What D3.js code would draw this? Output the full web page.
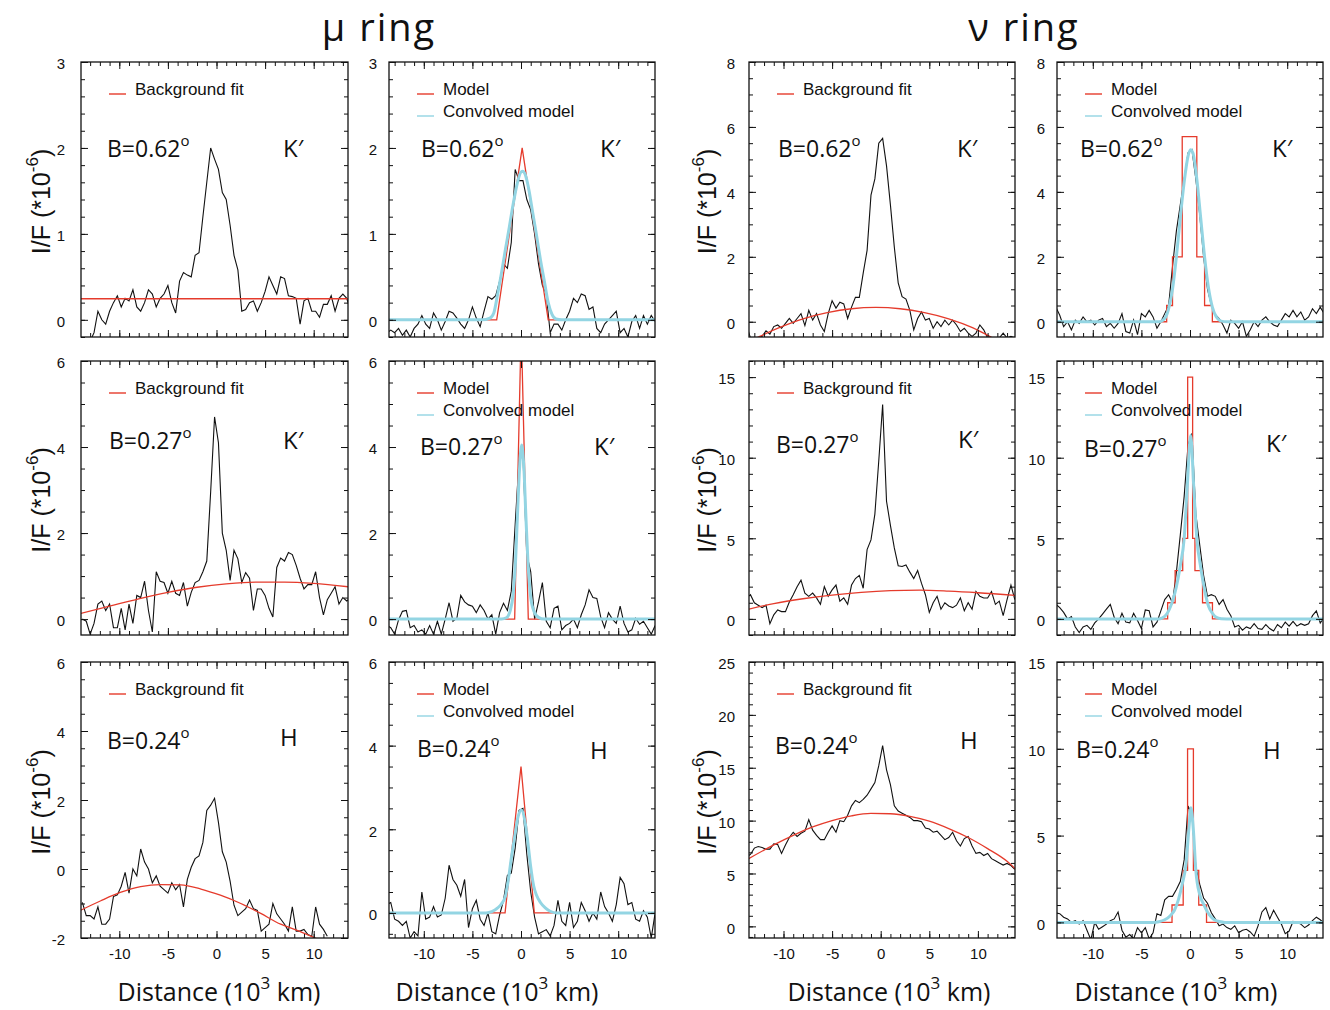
<!DOCTYPE html>
<html lang="en">
<head>
<meta charset="UTF-8">
<title>μ ring / ν ring radial profiles</title>
<script src="https://cdn.jsdelivr.net/npm/d3@7"></script>
<style>
  body{ margin:0; background:#fff; }
  svg text{ font-family:"Liberation Sans", Arial, sans-serif; fill:#111; }
  .hum{ font-family:"Open Sans","Noto Sans",sans-serif; }
  .obs{ fill:none; stroke:#111; stroke-width:1.1; }
  .fit{ fill:none; stroke:#e53b2c; stroke-width:1.3; }
  .conv{ fill:none; stroke:#93d5e3; stroke-width:3; }
  .box{ fill:none; stroke:#111; stroke-width:1.3; }
</style>
</head>
<body>
<div id="chart"></div>
<script>
// sampling of the observed profiles (10^3 km)
const X0 = -13.8, DX = 0.4;

// ---- mu ring, B=0.62, K'
const muObs062 = [-0.3,-0.3,-0.25,-0.15,0.1,0.0,-0.05,0.1,0.2,0.28,
  0.15,0.25,0.22,0.35,0.15,0.1,0.2,0.35,0.3,0.15,
  0.25,0.3,0.4,0.2,0.08,0.45,0.55,0.52,0.5,0.75,
  0.78,1.2,1.6,2.0,1.87,1.75,1.48,1.4,1.1,0.75,
  0.58,0.1,0.12,0.2,0.22,0.1,0.2,0.33,0.5,0.4,
  0.3,0.5,0.48,0.28,0.27,0.25,-0.05,0.22,0.25,0.1,
  0.1,0.03,0.18,0.18,0.28,0.1,0.25,0.3,0.25,0.1];
const muBg062 = [[-14,0.245],[13.6,0.245]];
const muRes062 = [-0.15,-0.12,-0.15,-0.1,-0.18,-0.12,-0.2,-0.1,-0.05,0.05,
  -0.05,-0.1,0.08,0.0,-0.12,-0.02,0.1,0.08,0.02,-0.05,
  -0.1,0.0,0.15,0.02,-0.08,0.1,0.27,0.24,0.28,0.45,
  0.65,0.6,0.9,1.75,1.62,1.62,1.4,1.28,1.0,0.65,
  0.4,0.3,-0.15,-0.05,-0.05,-0.12,0.0,0.1,0.25,0.2,
  0.3,0.28,0.12,0.15,-0.1,-0.15,-0.05,0.0,0.05,0.1,
  -0.15,-0.1,-0.2,-0.02,0.05,-0.1,0.05,-0.05,0.05,-0.02];
const muModel062 = [[-13.8,0],[-2.5,0],[0.12,2.0],[2.8,0],[13.8,0]];
const muConv062 = [[-13.8,0],[-4,0],[-3.2,0.02],[-2.8,0.08],[-2.4,0.3],[-2.0,0.55],[-1.6,0.82],[-1.2,1.08],
  [-0.8,1.35],[-0.4,1.58],[0.0,1.72],[0.2,1.73],[0.4,1.7],[0.8,1.52],[1.2,1.25],[1.6,0.98],[2.0,0.7],
  [2.4,0.45],[2.8,0.2],[3.2,0.06],[3.6,0.01],[4.2,0],[13.8,0]];

// ---- mu ring, B=0.27, K'
const muObs027 = [0.0,-0.05,-0.35,-0.1,0.35,0.42,0.2,0.35,-0.2,-0.2,
  0.25,-0.25,0.35,-0.1,0.55,0.5,0.88,0.2,-0.3,1.1,
  0.88,0.85,0.6,0.88,0.6,0.55,0.85,0.3,0.62,0.85,
  0.9,1.1,1.35,2.96,4.7,4.1,2.0,1.6,0.9,1.6,
  1.4,0.85,1.08,0.95,0.2,0.7,0.7,0.55,0.25,0.05,
  1.2,1.42,1.35,1.55,1.5,1.25,0.95,0.7,0.8,0.8,
  1.1,0.5,0.1,0.45,0.6,0.75,0.35,0.5,0.42,0.5];
const muBg027 = [[-14,0.13],[-11,0.3],[-8,0.47],[-5,0.62],[-2,0.74],[1,0.82],[4,0.86],[7,0.86],[10,0.83],[13.6,0.75]];
const muRes027 = [-0.15,-0.2,-0.35,-0.02,0.18,0.2,-0.2,-0.15,-0.3,-0.25,
  -0.35,-0.15,-0.35,-0.05,-0.35,0.0,0.38,-0.05,0.02,0.55,
  0.4,0.33,0.3,0.15,0.33,0.2,0.0,0.1,-0.35,0.15,
  0.37,0.2,0.65,2.2,3.7,3.8,1.5,1.1,0.0,0.4,
  0.85,-0.05,-0.2,0.25,0.3,-0.25,-0.15,-0.1,0.0,-0.2,
  0.1,0.33,0.68,0.5,0.48,0.05,-0.2,0.15,0.0,-0.1,
  0.3,-0.1,-0.3,-0.25,0.02,-0.12,-0.05,-0.2,-0.35,-0.15];
const muModel027 = [[-13.8,0],[-0.65,0],[0.02,6.8],[0.75,0],[13.8,0]];
const muConv027 = [[-13.8,0],[-2.0,0],[-1.5,0.03],[-1.1,0.2],[-0.8,0.6],[-0.55,1.4],[-0.35,2.5],[-0.15,3.5],
  [0.07,4.05],[0.3,3.5],[0.5,2.4],[0.7,1.4],[0.95,0.6],[1.3,0.2],[1.8,0.04],[2.4,0],[13.8,0]];

// ---- mu ring, B=0.24, H
const muObs024 = [-0.97,-1.35,-1.35,-1.45,-1.1,-1.6,-1.6,-1.45,-0.8,-0.75,
  -0.5,-0.1,-0.7,0.0,-0.2,0.58,0.2,0.0,-0.4,-0.2,
  -0.5,-0.6,-0.7,-0.4,-0.6,-0.45,-1.1,-0.3,0.05,0.3,
  0.38,0.77,1.7,1.85,2.05,1.35,0.5,0.2,-0.35,-1.05,
  -1.35,-1.25,-1.15,-0.9,-1.15,-1.2,-1.8,-1.7,-1.6,-1.0,
  -1.3,-1.45,-1.6,-1.8,-1.1,-1.8,-1.8,-1.75,-1.9,-1.95,
  -1.1,-1.6,-1.75,-1.95];
const muBg024 = [[-14,-1.2],[-11.9,-0.92],[-9.9,-0.68],[-7.8,-0.51],[-5.75,-0.45],[-3.7,-0.46],[-1.6,-0.58],
  [0.4,-0.76],[2.5,-1.0],[4.5,-1.28],[6.6,-1.6],[8.5,-1.8],[10.5,-2.05],[12,-2.3]];
const muRes024 = [0.2,0.25,-0.15,-0.2,-0.3,-0.2,-0.6,-0.45,-0.55,0.5,
  -0.15,-0.1,0.15,-0.1,-0.05,0.35,1.14,0.8,0.66,0.4,
  0.8,-0.35,0.1,0.3,-0.15,-0.3,0.0,-0.45,-0.5,-0.05,
  0.3,0.9,0.95,1.55,2.45,2.5,1.4,0.5,-0.1,-0.5,
  -0.45,-0.4,-0.55,-0.3,0.3,-0.2,-0.3,0.25,-0.35,-0.2,
  0.25,0.05,-0.2,0.0,-0.15,0.5,0.15,0.0,-0.2,0.2,
  0.85,0.7,0.2,0.25,-0.15,-0.2,0.05,-0.1,-0.6,0.0];
const muModel024 = [[-13.8,0],[-1.64,0],[0.0,3.5],[1.37,0],[13.8,0]];
const muConv024 = [[-13.8,0],[-3.6,0],[-3.0,0.03],[-2.4,0.12],[-2.0,0.22],[-1.6,0.4],[-1.3,0.8],[-1.0,1.3],
  [-0.6,1.9],[-0.3,2.3],[0.05,2.46],[0.4,2.2],[0.7,1.7],[1.0,1.1],[1.3,0.65],[1.6,0.42],[2.0,0.25],
  [2.5,0.12],[3.0,0.04],[3.7,0],[13.8,0]];

// ---- nu ring, B=0.62, K'
const nuObs062 = [-0.1,-0.5,-0.55,-0.5,-0.45,-0.28,-0.38,-0.15,-0.1,-0.2,
  -0.05,0.1,-0.05,0.1,0.25,-0.12,0.35,0.05,0.25,-0.1,
  -0.3,0.25,0.65,0.42,0.6,0.55,0.1,0.45,0.75,0.75,
  1.5,2.2,3.9,4.4,5.5,5.65,4.8,3.6,2.3,1.2,
  0.77,0.7,0.35,-0.25,0.1,0.3,0.05,0.1,-0.2,0.0,
  -0.15,0.05,-0.1,0.05,-0.1,-0.3,-0.2,-0.35,-0.45,-0.35,
  -0.1,-0.25,-0.5,-0.55,-0.5,-0.5,-0.35,-0.5,-0.45,-0.5];
const nuBg062 = [[-13.6,-0.62],[-12.5,-0.46],[-10.5,-0.19],[-8,0.09],[-5.5,0.28],[-3,0.4],[-0.5,0.44],
  [2,0.4],[4.5,0.28],[7,0.09],[9.5,-0.19],[11.5,-0.5],[13.8,-0.9]];
const nuRes062 = [0.45,0.2,-0.15,0.0,-0.25,0.05,-0.05,0.15,0.0,0.05,
  -0.1,0.05,0.1,-0.15,-0.05,-0.2,-0.05,0.25,-0.3,-0.35,
  0.05,-0.4,0.25,0.15,0.35,0.15,-0.2,0.0,0.25,0.5,
  1.7,2.8,3.6,4.4,5.2,5.3,4.4,3.3,2.0,1.0,
  0.5,0.22,0.1,-0.1,-0.35,0.05,-0.05,-0.2,0.0,-0.45,
  -0.25,0.0,-0.15,0.05,0.15,0.0,-0.1,-0.15,0.05,0.25,
  0.15,0.35,0.15,0.3,0.05,0.15,0.4,0.25,0.45,0.25];
const nuModel062 = [[-13.8,0],[-2.4,0],[-2.4,0.5],[-1.8,0.5],[-1.8,2],[-0.8,2],[-0.8,5.7],[0.7,5.7],
  [0.7,2],[1.5,2],[1.5,0.5],[2.3,0.5],[2.3,0],[13.8,0]];
const nuConv062 = [[-13.8,0],[-3.2,0],[-2.6,0.1],[-2.2,0.4],[-1.8,1.0],[-1.4,2.0],[-1.0,3.2],[-0.6,4.3],
  [-0.2,5.1],[0.05,5.3],[0.3,5.2],[0.7,4.4],[1.1,3.2],[1.5,2.0],[1.9,1.05],[2.3,0.45],[2.7,0.15],
  [3.2,0.02],[3.8,0],[13.8,0]];

// ---- nu ring, B=0.27, K'
const nuObs027 = [1.3,1.5,1.0,0.85,0.7,0.85,-0.3,0.25,0.55,0.45,
  0.45,1.05,1.5,2.0,2.4,1.6,1.4,1.6,1.3,0.9,
  2.0,1.4,1.8,2.1,1.1,1.3,0.9,2.1,2.5,2.7,
  1.9,4.3,4.9,6.5,9.8,13.3,7.3,5.8,4.4,3.3,
  3.25,3.35,2.9,2.5,3.0,2.2,1.5,0.4,1.0,1.4,
  0.6,1.0,0.8,0.7,0.85,1.3,0.5,1.0,0.6,1.7,
  1.4,1.3,1.3,1.7,0.9,1.1,0.2,1.2,2.1,1.2];
const nuBg027 = [[-13.6,0.6],[-11,0.95],[-8,1.25],[-5,1.48],[-2,1.65],[1,1.75],[4,1.78],[7,1.72],[10,1.62],[13.9,1.45]];
const nuRes027 = [0.9,0.7,0.4,0.0,0.15,-0.5,-0.85,-0.5,-0.4,-0.65,
  -0.25,0.0,0.3,0.6,0.9,0.1,-0.3,0.35,-0.2,-0.25,
  0.35,-0.1,-0.6,0.55,0.5,-0.5,-0.2,0.5,1.2,1.5,
  1.0,2.9,5.2,7.6,10.8,11.5,6.5,4.6,2.7,1.4,
  1.5,1.4,0.9,1.2,0.6,0.2,-0.5,-0.4,-0.7,-0.5,
  -0.6,-0.3,-0.6,-0.65,-0.35,-0.6,-0.75,-0.35,-0.55,-0.2,
  -0.45,-0.15,-0.45,-0.3,-0.4,-0.3,0.2,0.5,-0.25,0.1];
const nuModel027 = [[-13.8,0],[-2.3,0],[-2.3,1],[-1.53,1],[-1.53,3],[-0.75,3],[-0.75,5],[-0.24,5],
  [-0.24,15],[0.27,15],[0.27,5],[0.51,5],[0.51,3],[1.29,3],[1.29,1],[2.31,1],[2.31,0],[13.8,0]];
const nuConv027 = [[-13.8,0],[-3.2,0],[-2.6,0.15],[-2.2,0.5],[-1.8,1.1],[-1.4,2.0],[-1.0,3.3],[-0.6,5.0],
  [-0.3,8.0],[0.07,11.4],[0.4,8.0],[0.7,5.0],[1.1,3.2],[1.5,1.8],[1.9,0.8],[2.3,0.35],[2.7,0.1],
  [3.2,0.01],[3.8,0],[13.8,0]];

// ---- nu ring, B=0.24, H
const nuObs024 = [6.6,6.8,7.4,7.55,7.45,7.3,7.3,7.8,7.75,6.9,
  7.7,8.4,8.9,8.5,8.8,9.0,10.1,9.1,8.6,8.2,
  8.2,8.9,9.5,8.9,10.0,9.9,10.5,11.4,11.9,11.7,
  12.0,12.4,13.0,13.6,15.2,17.1,14.8,13.4,11.4,10.9,
  10.7,10.5,10.3,10.0,10.0,9.9,9.3,9.2,8.9,9.0,
  8.6,8.2,8.4,8.9,8.1,7.6,8.3,8.5,7.6,6.9,
  7.0,6.7,6.9,6.4,6.2,6.0,5.8,5.95,5.75,5.4];
const nuBg024 = [[-13.6,6.4],[-11,7.7],[-9,8.6],[-7,9.4],[-5,10.0],[-3,10.45],[-1,10.68],[1,10.65],
  [3,10.4],[5,9.95],[7,9.25],[9,8.4],[11,7.35],[13,6.15],[14,5.3]];
const nuRes024 = [0.55,0.5,0.3,0.2,0.0,0.1,-0.1,0.1,-0.45,-1.0,
  0.0,-0.4,-0.25,-0.1,0.1,0.2,0.6,-0.45,-0.85,-0.7,
  -0.95,-0.3,-0.6,-0.3,-0.95,-0.6,0.5,0.4,1.3,1.5,
  1.5,1.9,2.35,3.6,6.7,6.2,3.2,2.2,1.4,1.1,
  0.55,0.2,-0.2,-0.1,-0.3,-0.4,-0.2,-0.6,-0.45,-0.4,
  -0.55,-0.8,-0.2,0.6,0.85,0.2,0.7,0.3,-0.1,-0.65,
  -0.5,0.05,0.0,-0.1,-0.3,-0.15,0.1,0.3,0.15,-0.05];
const nuModel024 = [[-13.8,0],[-1.85,0],[-1.85,1],[-0.7,1],[-0.7,3],[-0.25,3],[-0.25,10],[0.35,10],
  [0.35,3],[0.9,3],[0.9,1],[1.7,1],[1.7,0],[13.8,0]];
const nuConv024 = [[-13.8,0],[-3.8,0],[-3.2,0.04],[-2.6,0.15],[-2.0,0.4],[-1.6,0.7],[-1.2,1.3],[-0.8,2.2],
  [-0.4,3.4],[-0.1,5.5],[0.1,6.6],[0.35,5.3],[0.6,3.0],[1.0,1.6],[1.4,1.05],[1.8,0.6],[2.2,0.3],
  [2.6,0.12],[3.0,0.05],[3.6,0],[13.8,0]];

// panels: row, col, y range, tick steps, curves, labels
const panels = [
  {row:0,col:0,y:[-0.2,3],maj:1,min:0.2,obs:muObs062,bg:muBg062,B:"0.62",band:"K′"},
  {row:0,col:1,y:[-0.2,3],maj:1,min:0.2,obs:muRes062,model:muModel062,conv:muConv062,B:"0.62",band:"K′"},
  {row:0,col:2,y:[-0.47,8],maj:2,min:0.5,obs:nuObs062,bg:nuBg062,B:"0.62",band:"K′"},
  {row:0,col:3,y:[-0.47,8],maj:2,min:0.5,obs:nuRes062,model:nuModel062,conv:nuConv062,B:"0.62",band:"K′"},
  {row:1,col:0,y:[-0.37,6],maj:2,min:0.5,obs:muObs027,bg:muBg027,B:"0.27",band:"K′"},
  {row:1,col:1,y:[-0.37,6],maj:2,min:0.5,obs:muRes027,model:muModel027,conv:muConv027,B:"0.27",band:"K′"},
  {row:1,col:2,y:[-1,16],maj:5,min:1,obs:nuObs027,bg:nuBg027,B:"0.27",band:"K′"},
  {row:1,col:3,y:[-1,16],maj:5,min:1,obs:nuRes027,model:nuModel027,conv:nuConv027,B:"0.27",band:"K′"},
  {row:2,col:0,y:[-2,6],maj:2,min:0.5,obs:muObs024,bg:muBg024,B:"0.24",band:"H"},
  {row:2,col:1,y:[-0.6,6],maj:2,min:0.5,obs:muRes024,model:muModel024,conv:muConv024,B:"0.24",band:"H"},
  {row:2,col:2,y:[-1.1,25],maj:5,min:1,obs:nuObs024,bg:nuBg024,B:"0.24",band:"H"},
  {row:2,col:3,y:[-0.9,15],maj:5,min:1,obs:nuRes024,model:nuModel024,conv:nuConv024,B:"0.24",band:"H"}
];

// layout (pixels)
const colLeft = [81, 389, 749, 1057], colRight = [348, 655, 1015, 1323];
const colZero = [216.5, 521, 880.7, 1190], PPU = 9.72;
const rowTop = [62, 361, 662], rowBottom = [337, 635, 938];
const labelPad = [16, 12, 14, 12];
const xTitleX = [219, 497, 889, 1176];
// B= / band text offsets inside each panel: [bx, by, kx, ky]
const textPos = [
  [26,95,202,95],[32,95,211,95],[29,95,208,95],[23,95,215,95],
  [28,88,202,88],[31,94,205,94],[27,92,209,87],[27,96,209,91],
  [26,87,199,84],[28,95,201,97],[26,92,211,87],[19,96,206,97]
];

const svg = d3.select("#chart").append("svg")
  .attr("width", 1330).attr("height", 1010);

function stepTicks(dom, step){
  const a = Math.ceil(dom[0]/step - 1e-9), b = Math.floor(dom[1]/step + 1e-9);
  return d3.range(a, b + 1).map(k => +(k*step).toFixed(6));
}

panels.forEach((p, idx) => {
  const L = colLeft[p.col], R = colRight[p.col], T = rowTop[p.row], Bt = rowBottom[p.row];
  const w = R - L, h = Bt - T;
  const x = d3.scaleLinear().domain([(L - colZero[p.col]) / PPU, (R - colZero[p.col]) / PPU]).range([0, w]);
  const y = d3.scaleLinear().domain(p.y).range([h, 0]);

  const g = svg.append("g").attr("transform", `translate(${L},${T})`);
  const clipId = "clip" + idx;
  g.append("clipPath").attr("id", clipId).append("rect").attr("width", w).attr("height", h);
  const plot = g.append("g").attr("clip-path", `url(#${clipId})`);

  const lineXY = d3.line().x(d => x(d[0])).y(d => y(d[1]));
  const smooth = d3.line().x(d => x(d[0])).y(d => y(d[1])).curve(d3.curveMonotoneX);

  const obsPts = p.obs.map((v, i) => [X0 + i*DX, v]);
  plot.append("path").attr("class", "obs").attr("d", lineXY(obsPts));
  if (p.bg) plot.append("path").attr("class", "fit").attr("d", smooth(p.bg));
  if (p.model) plot.append("path").attr("class", "fit").attr("d", lineXY(p.model));
  if (p.conv) plot.append("path").attr("class", "conv").attr("d", smooth(p.conv));

  // axes, ticks inward on all four sides
  const xMaj = stepTicks(x.domain(), 5), xMin = stepTicks(x.domain(), 1);
  const yMaj = stepTicks(p.y, p.maj), yMin = stepTicks(p.y, p.min);
  const noDomain = s => s.select(".domain").remove();
  const ax = (axis, tr) => {
    const a = g.append("g").attr("transform", tr || null).call(axis).call(noDomain);
    a.selectAll("line").attr("stroke", "#111");
    a.selectAll("text").attr("font-family", "Liberation Sans, Arial, sans-serif").attr("font-size", 15).attr("fill", "#111");
    return a;
  };
  ax(d3.axisLeft(y).tickValues(yMin).tickSize(-4).tickFormat(""));
  ax(d3.axisLeft(y).tickValues(yMaj).tickSize(-7).tickPadding(labelPad[p.col]).tickFormat(d => String(d)))
    .selectAll("text").attr("dy", "0.45em");
  ax(d3.axisRight(y).tickValues(yMin).tickSize(-4).tickFormat(""), `translate(${w},0)`);
  ax(d3.axisRight(y).tickValues(yMaj).tickSize(-7).tickFormat(""), `translate(${w},0)`);
  ax(d3.axisTop(x).tickValues(xMin).tickSize(-4).tickFormat(""));
  ax(d3.axisTop(x).tickValues(xMaj).tickSize(-7).tickFormat(""));
  ax(d3.axisBottom(x).tickValues(xMin).tickSize(-4).tickFormat(""), `translate(0,${h})`);
  ax(d3.axisBottom(x).tickValues(xMaj).tickSize(-7).tickPadding(10)
      .tickFormat(p.row === 2 ? (d => String(d)) : ""), `translate(0,${h})`);

  g.append("rect").attr("class", "box").attr("width", w).attr("height", h);

  // legend
  const items = p.bg ? [["Background fit", "#e53b2c"]]
                     : [["Model", "#e53b2c"], ["Convolved model", "#93d5e3"]];
  items.forEach((it, k) => {
    const by = 33 + k*22;
    g.append("line").attr("x1", 28).attr("x2", 45).attr("y1", by - 1).attr("y2", by - 1)
      .attr("stroke", it[1]).attr("stroke-width", 1.4);
    g.append("text").attr("x", 54).attr("y", by).attr("font-size", 17).text(it[0]);
  });

  // B= and band
  const tp = textPos[idx];
  const bt = g.append("text").attr("class", "hum").attr("x", tp[0]).attr("y", tp[1]).attr("font-size", 23);
  bt.append("tspan").text("B=" + p.B);
  bt.append("tspan").attr("font-size", 15).attr("dy", -11).text("o");
  g.append("text").attr("class", "hum").attr("x", tp[2]).attr("y", tp[3]).attr("font-size", 24).text(p.band);

  // y title on columns 1 and 3
  if (p.col === 0 || p.col === 2) {
    const tx = p.col === 0 ? 50 : 716, ty = (T + Bt) / 2 + 2;
    const yt = svg.append("text").attr("transform", `translate(${tx},${ty}) rotate(-90)`)
      .attr("text-anchor", "middle").attr("font-size", 25);
    yt.append("tspan").text("I/F (*10");
    yt.append("tspan").attr("font-size", 17).attr("dy", -12).text("-6");
    yt.append("tspan").attr("dy", 12).text(")");
  }

  // x title under the bottom row
  if (p.row === 2) {
    const xt = svg.append("text").attr("class", "hum").attr("x", xTitleX[p.col]).attr("y", 1001)
      .attr("text-anchor", "middle").attr("font-size", 25);
    xt.append("tspan").text("Distance (10");
    xt.append("tspan").attr("font-size", 17).attr("dy", -12).text("3");
    xt.append("tspan").attr("dy", 12).text(" km)");
  }
});

// ring titles
svg.append("text").attr("class", "hum").attr("x", 379).attr("y", 41)
  .attr("text-anchor", "middle").attr("font-size", 38).attr("letter-spacing", 2).text("μ ring");
svg.append("text").attr("class", "hum").attr("x", 1024).attr("y", 41)
  .attr("text-anchor", "middle").attr("font-size", 38).attr("letter-spacing", 2).text("ν ring");
</script>
</body>
</html>
